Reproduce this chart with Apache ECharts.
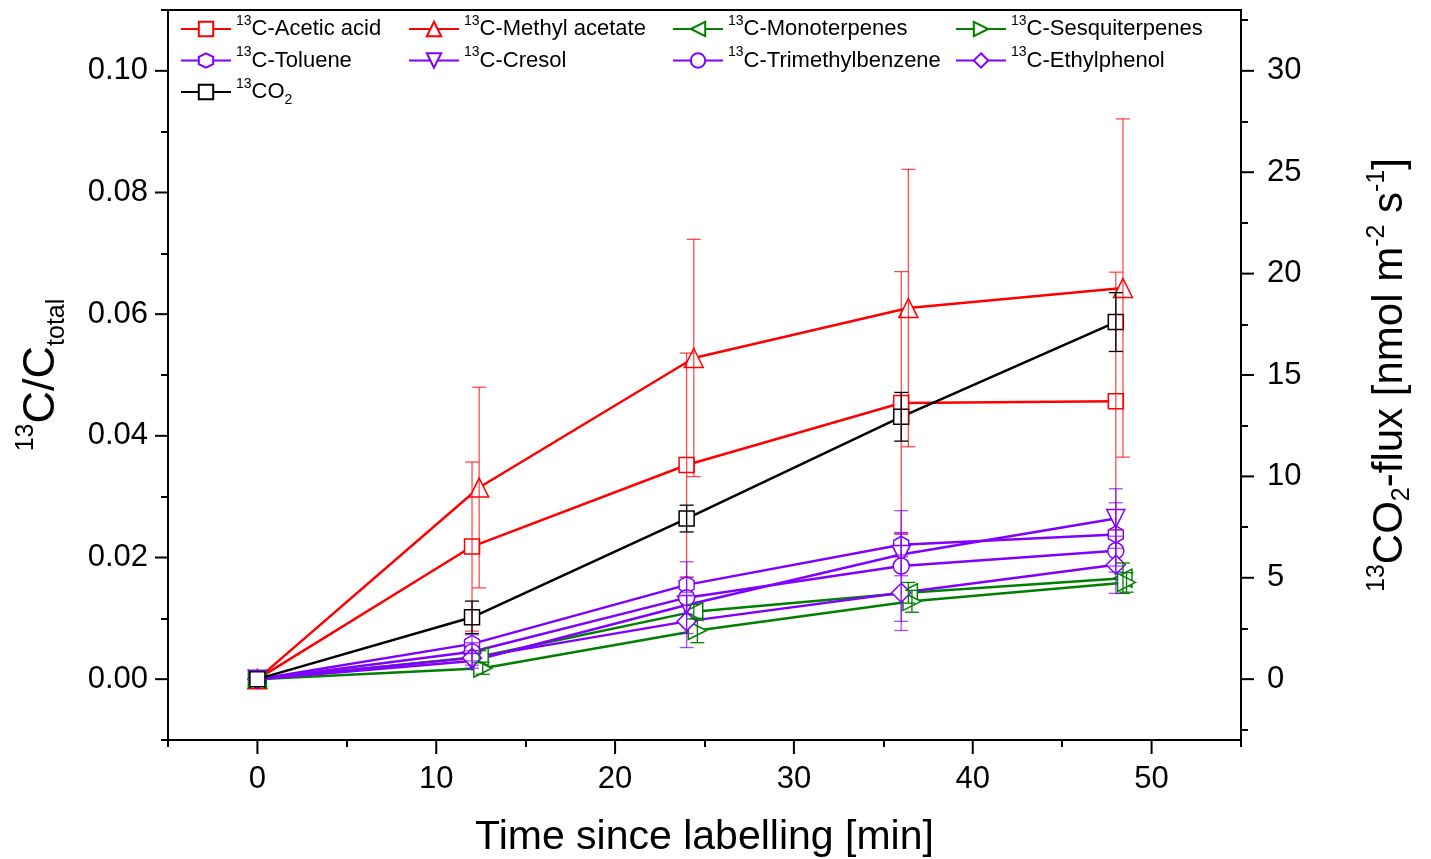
<!DOCTYPE html>
<html>
<head>
<meta charset="utf-8">
<script src="https://cdn.jsdelivr.net/npm/echarts@6/dist/echarts.min.js"></script>
<style>
  html, body { margin: 0; padding: 0; background: #fff; }
  #main { width: 1431px; height: 859px; }
</style>
</head>
<body>
<div id="main"></div>
<script>
// sampling times [min] (some series are plotted slightly shifted, as in the original)
var timeA = [0, 12, 24, 36, 48]
var timeB = [0, 12.4, 24.4, 36.4, 48.4]
var timeC = [0, 12.6, 24.6, 36.6, 48.6]

// 13C/Ctotal (left axis)
var aceticAcid = [0, 0.0218, 0.0352, 0.0454, 0.0457]
var aceticAcidErr = [0, 0.0139, 0.0184, 0.0216, 0.0212]
var methylAcetate = [0, 0.0315, 0.0528, 0.0610, 0.0643]
var methylAcetateErr = [0, 0.0165, 0.0195, 0.0228, 0.0278]
var monoterpenes = [0, 0.0037, 0.0111, 0.0142, 0.0166]
var monoterpenesErr = [0, 0.0010, 0.0012, 0.0017, 0.0025]
var sesquiterpenes = [0, 0.0018, 0.0080, 0.0128, 0.0159]
var sesquiterpenesErr = [0, 0.0010, 0.0020, 0.0018, 0.0016]
var toluene = [0, 0.0058, 0.0155, 0.0221, 0.0238]
var tolueneErr = [0, 0.0015, 0.0012, 0.0020, 0.0052]
var cresol = [0, 0.0030, 0.0122, 0.0205, 0.0264]
var cresolErr = [0, 0.0012, 0.0015, 0.0035, 0.0049]
var trimethylbenzene = [0, 0.0045, 0.0134, 0.0186, 0.0211]
var trimethylbenzeneErr = [0, 0.0015, 0.0059, 0.0091, 0.0035]
var ethylphenol = [0, 0.0035, 0.0095, 0.0142, 0.0188]
var ethylphenolErr = [0, 0.0012, 0.0043, 0.0062, 0.0047]

// 13CO2 flux [nmol m-2 s-1] (right axis)
var co2Flux = [0, 3.05, 7.92, 12.94, 17.61]
var co2FluxErr = [0, 0.8, 0.66, 1.2, 1.45]

// tick labels
var xTicks = [0, 10, 20, 30, 40, 50]
var xMinorTicks = [-5, 5, 15, 25, 35, 45, 55]
var leftTicks = [0, 0.02, 0.04, 0.06, 0.08, 0.10]
var leftMinorTicks = [-0.01, 0.01, 0.03, 0.05, 0.07, 0.09, 0.11]
var rightTicks = [0, 5, 10, 15, 20, 25, 30]
var rightMinorTicks = [-2.5, 2.5, 7.5, 12.5, 17.5, 22.5, 27.5, 32.5]

var X_MIN = -5, X_MAX = 55
var L_MIN = -0.01, L_MAX = 0.11
var R_MIN = -3, R_MAX = 33

var RED = '#ff0000'
var GREEN = '#008000'
var PURPLE = '#8000ff'
var BLACK = '#000000'
var hexagon = 'path://M0,-1L0.866,-0.5L0.866,0.5L0,1L-0.866,0.5L-0.866,-0.5Z'

var defs = [
  { name: 'Acetic acid', label: '{sup|13}{t|C-Acetic acid}', t: timeA, v: aceticAcid, e: aceticAcidErr, color: RED, symbol: 'rect', size: 15, rot: 0, axis: 0, errColor: 'rgba(255,0,0,0.7)' },
  { name: 'Methyl acetate', label: '{sup|13}{t|C-Methyl acetate}', t: timeB, v: methylAcetate, e: methylAcetateErr, color: RED, symbol: 'triangle', size: 19, rot: 0, axis: 0, errColor: 'rgba(255,0,0,0.7)' },
  { name: 'Monoterpenes', label: '{sup|13}{t|C-Monoterpenes}', t: timeB, v: monoterpenes, e: monoterpenesErr, color: GREEN, symbol: 'triangle', size: 18, rot: 90, axis: 0, errColor: GREEN },
  { name: 'Sesquiterpenes', label: '{sup|13}{t|C-Sesquiterpenes}', t: timeC, v: sesquiterpenes, e: sesquiterpenesErr, color: GREEN, symbol: 'triangle', size: 18, rot: -90, axis: 0, errColor: GREEN },
  { name: 'Toluene', label: '{sup|13}{t|C-Toluene}', t: timeA, v: toluene, e: tolueneErr, color: PURPLE, symbol: hexagon, size: [15, 17], rot: 0, axis: 0, errColor: 'rgba(128,0,255,0.7)' },
  { name: 'Cresol', label: '{sup|13}{t|C-Cresol}', t: timeA, v: cresol, e: cresolErr, color: PURPLE, symbol: 'triangle', size: 18, rot: 180, axis: 0, errColor: 'rgba(128,0,255,0.7)' },
  { name: 'Trimethylbenzene', label: '{sup|13}{t|C-Trimethylbenzene}', t: timeA, v: trimethylbenzene, e: trimethylbenzeneErr, color: PURPLE, symbol: 'circle', size: 16, rot: 0, axis: 0, errColor: 'rgba(128,0,255,0.7)' },
  { name: 'Ethylphenol', label: '{sup|13}{t|C-Ethylphenol}', t: timeA, v: ethylphenol, e: ethylphenolErr, color: PURPLE, symbol: 'diamond', size: 19, rot: 0, axis: 0, errColor: 'rgba(128,0,255,0.7)' },
  { name: 'CO2', label: '{sup|13}{t|CO}{sub|2}', t: timeA, v: co2Flux, e: co2FluxErr, color: BLACK, symbol: 'rect', size: 15, rot: 0, axis: 1, errColor: BLACK }
]

function errorBarItem(params, api) {
  var x = api.value(0)
  var lo = api.coord([x, api.value(1)])
  var hi = api.coord([x, api.value(2)])
  var w = 7
  var style = { stroke: api.visual('color'), lineWidth: 1.3, fill: null }
  return {
    type: 'group',
    children: [
      { type: 'line', shape: { x1: hi[0], y1: hi[1], x2: lo[0], y2: lo[1] }, style: style },
      { type: 'line', shape: { x1: hi[0] - w, y1: hi[1], x2: hi[0] + w, y2: hi[1] }, style: style },
      { type: 'line', shape: { x1: lo[0] - w, y1: lo[1], x2: lo[0] + w, y2: lo[1] }, style: style }
    ]
  }
}

var series = []
var labelOf = {}
defs.forEach(function (d) {
  labelOf[d.name] = d.label
  var errData = []
  for (var i = 0; i < d.t.length; i++) {
    if (d.e[i] > 0) errData.push([d.t[i], d.v[i] - d.e[i], d.v[i] + d.e[i]])
  }
  series.push({
    name: d.name + ' err',
    type: 'custom',
    xAxisIndex: 0,
    yAxisIndex: d.axis,
    renderItem: errorBarItem,
    itemStyle: { color: d.errColor },
    encode: { x: 0, y: [1, 2] },
    data: errData,
    z: 5,
    silent: true
  })
})
defs.forEach(function (d) {
  series.push({
    name: d.name,
    type: 'line',
    xAxisIndex: 0,
    yAxisIndex: d.axis,
    data: d.t.map(function (t, i) { return [t, d.v[i]] }),
    symbol: d.symbol,
    symbolSize: d.size,
    symbolRotate: d.rot,
    showAllSymbol: true,
    lineStyle: { color: d.color, width: 2.5 },
    itemStyle: { color: '#ffffff', borderColor: d.color, borderWidth: 1.5 },
    emphasis: { disabled: true },
    z: d.name === 'CO2' ? 4 : 3,
    animation: false
  })
})

var legendText = {
  color: '#000',
  fontFamily: 'Liberation Sans',
  rich: {
    sup: { fontSize: 14, verticalAlign: 'top', lineHeight: 14, fontFamily: 'Liberation Sans' },
    t: { fontSize: 22, lineHeight: 30, fontFamily: 'Liberation Sans' },
    sub: { fontSize: 14, verticalAlign: 'bottom', lineHeight: 14, fontFamily: 'Liberation Sans' }
  }
}
function legendCol(left, names) {
  return {
    orient: 'vertical',
    left: left,
    top: 14,
    padding: 0,
    itemWidth: 50,
    itemHeight: 18,
    itemGap: 5.5,
    data: names,
    formatter: function (n) { return labelOf[n] },
    textStyle: legendText,
    selectedMode: false
  }
}

// minor tick marks at custom positions
function minorAxis(pos, min, max, values) {
  return {
    type: 'value', gridIndex: 1, min: min, max: max, position: pos,
    axisLine: { show: false, onZero: false },
    axisTick: { show: true, customValues: values, length: 7, lineStyle: { color: '#000', width: 2 } },
    axisLabel: { show: false },
    splitLine: { show: false }
  }
}

var axisFont = { fontSize: 31, color: '#000', fontFamily: 'Liberation Sans' }
var lineBlack = { show: true, onZero: false, lineStyle: { color: '#000', width: 2 } }
var gridBox = { left: 168, right: 190, top: 10, bottom: 119, outerBoundsMode: 'none' }

var chart = echarts.init(document.getElementById('main'))
chart.setOption({
  backgroundColor: '#fff',
  animation: false,
  legend: [
    legendCol(180, ['Acetic acid', 'Toluene', 'CO2']),
    legendCol(408, ['Methyl acetate', 'Cresol']),
    legendCol(672, ['Monoterpenes', 'Trimethylbenzene']),
    legendCol(955, ['Sesquiterpenes', 'Ethylphenol'])
  ],
  grid: [
    Object.assign({ show: true, borderColor: '#000', borderWidth: 2, backgroundColor: 'transparent' }, gridBox),
    Object.assign({}, gridBox)
  ],
  xAxis: [
    {
      type: 'value', gridIndex: 0, min: X_MIN, max: X_MAX, position: 'bottom',
      axisLine: lineBlack,
      axisTick: { show: false },
      axisLabel: Object.assign({ customValues: xTicks, margin: 24 }, axisFont),
      splitLine: { show: false },
      name: 'Time since labelling [min]',
      nameLocation: 'middle',
      nameGap: 77,
      nameTextStyle: { fontSize: 41, color: '#000', fontFamily: 'Liberation Sans' }
    },
    minorAxis('bottom', X_MIN, X_MAX, xMinorTicks)
  ],
  yAxis: [
    {
      type: 'value', gridIndex: 0, min: L_MIN, max: L_MAX, position: 'left',
      axisLine: lineBlack,
      axisTick: { show: false },
      axisLabel: Object.assign({
        customValues: leftTicks, margin: 20,
        formatter: function (v) { return v.toFixed(2) }
      }, axisFont),
      splitLine: { show: false },
      name: '{sup|13}{t|C/C}{sub|total}',
      nameLocation: 'middle',
      nameRotate: 90,
      nameGap: 98,
      nameTextStyle: {
        color: '#000', fontFamily: 'Liberation Sans',
        rich: {
          sup: { fontSize: 25, lineHeight: 25, verticalAlign: 'top', fontFamily: 'Liberation Sans' },
          t: { fontSize: 45, lineHeight: 56, fontFamily: 'Liberation Sans' },
          sub: { fontSize: 25, lineHeight: 25, verticalAlign: 'bottom', fontFamily: 'Liberation Sans' }
        }
      }
    },
    {
      type: 'value', gridIndex: 0, min: R_MIN, max: R_MAX, position: 'right',
      axisLine: lineBlack,
      axisTick: { show: false },
      axisLabel: Object.assign({ customValues: rightTicks, margin: 26 }, axisFont),
      splitLine: { show: false },
      name: '{sup|13}{t|CO}{sub|2}{t|-flux [nmol m}{sup|-2}{t| s}{sup|-1}{t|]}',
      nameLocation: 'middle',
      nameRotate: 90,
      nameGap: 124,
      nameTextStyle: {
        color: '#000', fontFamily: 'Liberation Sans',
        rich: {
          sup: { fontSize: 25, lineHeight: 25, verticalAlign: 'top', fontFamily: 'Liberation Sans' },
          t: { fontSize: 42, lineHeight: 50, fontFamily: 'Liberation Sans' },
          sub: { fontSize: 25, lineHeight: 25, verticalAlign: 'bottom', fontFamily: 'Liberation Sans' }
        }
      }
    },
    minorAxis('left', L_MIN, L_MAX, leftMinorTicks),
    minorAxis('right', R_MIN, R_MAX, rightMinorTicks)
  ],
  series: series
})

// major tick marks: positions come from the axes' own scales
var tickStyle = { stroke: '#000', lineWidth: 2 }
var tickGraphics = []
var xBase = chart.convertToPixel({ yAxisIndex: 0 }, L_MIN)
var yLeftBase = chart.convertToPixel({ xAxisIndex: 0 }, X_MIN)
var yRightBase = chart.convertToPixel({ xAxisIndex: 0 }, X_MAX)
xTicks.forEach(function (v) {
  var px = chart.convertToPixel({ xAxisIndex: 0 }, v)
  tickGraphics.push({ type: 'line', z: 100, silent: true, shape: { x1: px, y1: xBase, x2: px, y2: xBase + 14 }, style: tickStyle })
})
leftTicks.forEach(function (v) {
  var py = chart.convertToPixel({ yAxisIndex: 0 }, v)
  tickGraphics.push({ type: 'line', z: 100, silent: true, shape: { x1: yLeftBase, y1: py, x2: yLeftBase - 13, y2: py }, style: tickStyle })
})
rightTicks.forEach(function (v) {
  var py = chart.convertToPixel({ yAxisIndex: 1 }, v)
  tickGraphics.push({ type: 'line', z: 100, silent: true, shape: { x1: yRightBase, y1: py, x2: yRightBase + 13, y2: py }, style: tickStyle })
})
chart.setOption({ graphic: tickGraphics })
</script>
</body>
</html>
